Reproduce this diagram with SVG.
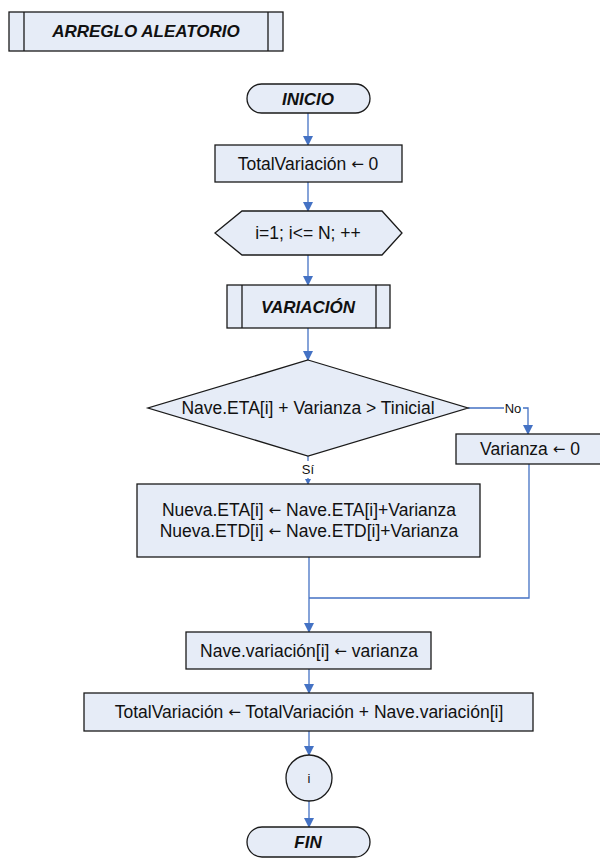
<svg xmlns="http://www.w3.org/2000/svg" width="600" height="859" viewBox="0 0 600 859">
<style>
.s{fill:#e6ecf7;stroke:#1a1a1a;stroke-width:1.3}
.l{fill:none;stroke:#1a1a1a;stroke-width:1.3}
.c{fill:none;stroke:#4472c4;stroke-width:1.3}
.t{font-family:"Liberation Sans",Arial,sans-serif;font-size:17.5px;fill:#111;text-anchor:middle;dominant-baseline:central}
.b{font-weight:bold;font-style:italic;font-size:17px}
.sm{font-size:13px}
.ar{font-family:"DejaVu Sans",sans-serif;font-size:15px}
</style>
<defs>
<marker id="a" markerWidth="10" markerHeight="10" refX="9" refY="5" orient="auto" markerUnits="userSpaceOnUse">
<path d="M0,0 L10,5 L0,10 Z" fill="#4472c4"/>
</marker>
<marker id="sa" markerWidth="6" markerHeight="6" refX="5" refY="3" orient="auto" markerUnits="userSpaceOnUse">
<path d="M0,0 L6,3 L0,6 Z" fill="#4472c4"/>
</marker>
</defs>
<g id="connectors">
<line class="c" x1="308" y1="113" x2="308" y2="145" marker-end="url(#a)"/>
<line class="c" x1="308" y1="182" x2="308" y2="211" marker-end="url(#a)"/>
<line class="c" x1="308" y1="255" x2="308" y2="285" marker-end="url(#a)"/>
<line class="c" x1="308" y1="328" x2="308" y2="360" marker-end="url(#a)"/>
<polyline class="c" points="468,408 528,408 528,434" marker-end="url(#a)"/>
<line class="c" x1="308" y1="456" x2="308" y2="461"/>
<line class="c" x1="308" y1="478" x2="308" y2="484" marker-end="url(#sa)"/>
<polyline class="c" points="529,464 529,598 309,598"/>
<line class="c" x1="309" y1="557" x2="309" y2="632" marker-end="url(#a)"/>
<line class="c" x1="309" y1="669" x2="309" y2="693" marker-end="url(#a)"/>
<line class="c" x1="309" y1="731" x2="309" y2="755" marker-end="url(#a)"/>
<line class="c" x1="309" y1="801" x2="309" y2="827" marker-end="url(#a)"/>
<rect x="504" y="401" width="19" height="14" fill="#fff"/>
<text class="t sm" x="513" y="408">No</text>
<text class="t sm" x="308" y="469">Sí</text>
</g>
<g id="title">
<rect class="s" x="9" y="12" width="274" height="39"/>
<line class="l" x1="24" y1="12" x2="24" y2="51"/>
<line class="l" x1="268" y1="12" x2="268" y2="51"/>
<text class="t b" x="146" y="31">ARREGLO ALEATORIO</text>
</g>
<g id="inicio">
<rect class="s" x="247" y="84" width="123" height="29" rx="14.5"/>
<text class="t b" x="308" y="99">INICIO</text>
</g>
<g id="init">
<rect class="s" x="215" y="145" width="187" height="37"/>
<text class="t" x="308" y="164">TotalVariación <tspan class="ar">←</tspan> 0</text>
</g>
<g id="loop">
<polygon class="s" points="215,233 242,211 382,211 402,233 382,255 242,255"/>
<text class="t" x="308" y="233">i=1; i&lt;= N; ++</text>
</g>
<g id="variacion">
<rect class="s" x="227" y="285" width="163" height="43"/>
<line class="l" x1="242" y1="285" x2="242" y2="328"/>
<line class="l" x1="376" y1="285" x2="376" y2="328"/>
<text class="t b" x="308" y="307">VARIACIÓN</text>
</g>
<g id="decision">
<polygon class="s" points="308,360 468,408 308,456 148,408"/>
<text class="t" x="308" y="408">Nave.ETA[i] + Varianza &gt; Tinicial</text>
</g>
<g id="varianza0">
<rect class="s" x="456" y="434" width="145" height="30"/>
<text class="t" x="530" y="449">Varianza <tspan class="ar">←</tspan> 0</text>
</g>
<g id="nueva">
<rect class="s" x="137" y="484" width="343" height="73"/>
<text class="t" x="309" y="510">Nueva.ETA[i] <tspan class="ar">←</tspan> Nave.ETA[i]+Varianza</text>
<text class="t" x="309" y="531">Nueva.ETD[i] <tspan class="ar">←</tspan> Nave.ETD[i]+Varianza</text>
</g>
<g id="navevar">
<rect class="s" x="186" y="632" width="245" height="37"/>
<text class="t" x="309" y="651">Nave.variación[i] <tspan class="ar">←</tspan> varianza</text>
</g>
<g id="total">
<rect class="s" x="84" y="693" width="449" height="38"/>
<text class="t" x="309" y="712">TotalVariación <tspan class="ar">←</tspan> TotalVariación + Nave.variación[i]</text>
</g>
<g id="i">
<circle class="s" cx="309" cy="778" r="23"/>
<text class="t sm" x="309" y="778">i</text>
</g>
<g id="fin">
<rect class="s" x="247" y="827" width="123" height="30" rx="15"/>
<text class="t b" x="308" y="842">FIN</text>
</g>
</svg>
